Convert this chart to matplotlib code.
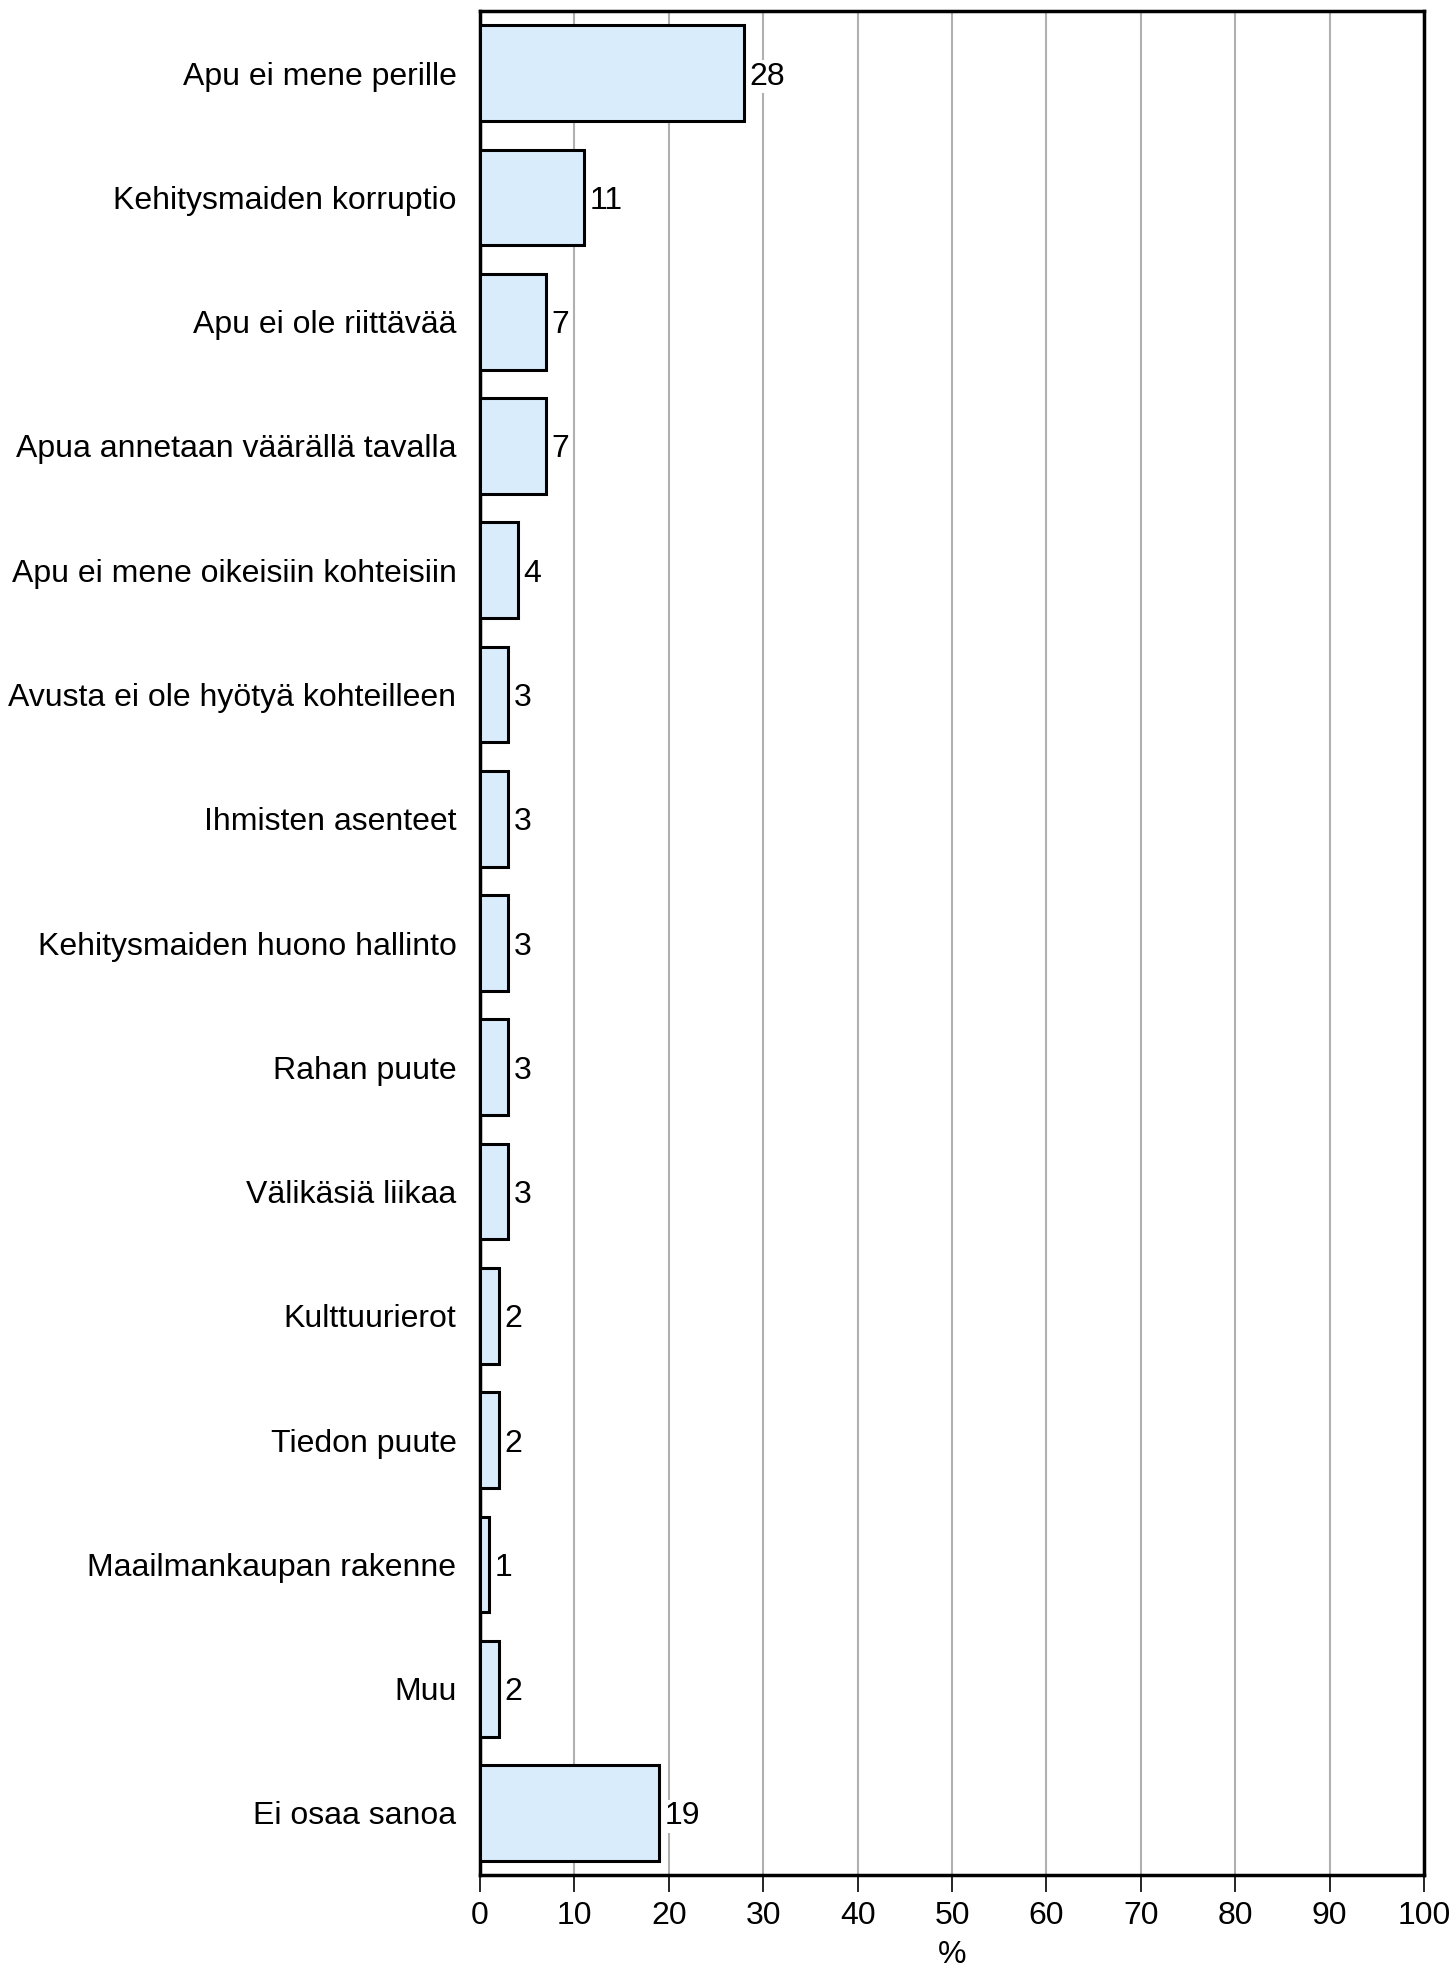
import matplotlib.pyplot as plt
import numpy as np

plt.rcParams['font.family'] = ['Liberation Sans', 'DejaVu Sans']

categories = [
    'Apu ei mene perille',
    'Kehitysmaiden korruptio',
    'Apu ei ole riittävää',
    'Apua annetaan väärällä tavalla',
    'Apu ei mene oikeisiin kohteisiin',
    'Avusta ei ole hyötyä kohteilleen',
    'Ihmisten asenteet',
    'Kehitysmaiden huono hallinto',
    'Rahan puute',
    'Välikäsiä liikaa',
    'Kulttuurierot',
    'Tiedon puute',
    'Maailmankaupan rakenne',
    'Muu',
    'Ei osaa sanoa',
]
values = [28, 11, 7, 7, 4, 3, 3, 3, 3, 3, 2, 2, 1, 2, 19]
x_ticks = list(range(0, 101, 10))

fig = plt.figure(figsize=(14.51, 19.75), dpi=100)
ax = fig.add_axes([0.3308, 0.0506, 0.9814 - 0.3308, 0.9944 - 0.0506])

y = np.arange(len(categories))
bars = ax.barh(y, values, height=0.77, color='#d9ecfc',
               edgecolor='black', linewidth=2.2, zorder=3)

# value labels sit on a white patch so the grid line is broken behind them
labels = ax.bar_label(bars, labels=[str(v) for v in values], padding=4,
                      fontsize=23, zorder=4)
for t in labels:
    t.set_va('center_baseline')
    t.set_bbox(dict(facecolor='white', edgecolor='none', pad=1))

ax.set_ylim(len(categories) - 0.5, -0.5)
ax.set_yticks(y)
ax.set_yticklabels(categories, fontsize=23)
ax.tick_params(axis='y', length=0, pad=17)

ax.set_xlim(0, 100)
ax.set_xticks(x_ticks)
ax.set_xticklabels([str(v) for v in x_ticks], fontsize=23)
ax.tick_params(axis='x', direction='out', length=12, width=1.2, pad=7)
ax.set_xlabel('%', fontsize=23, labelpad=6)

ax.xaxis.grid(True, color='#b0b0b0', linewidth=1.5, zorder=0)
ax.set_axisbelow(True)

for side in ['left', 'right', 'top', 'bottom']:
    ax.spines[side].set_color('black')
    ax.spines[side].set_linewidth(2.5)

fig.savefig('out.png', dpi=100)
